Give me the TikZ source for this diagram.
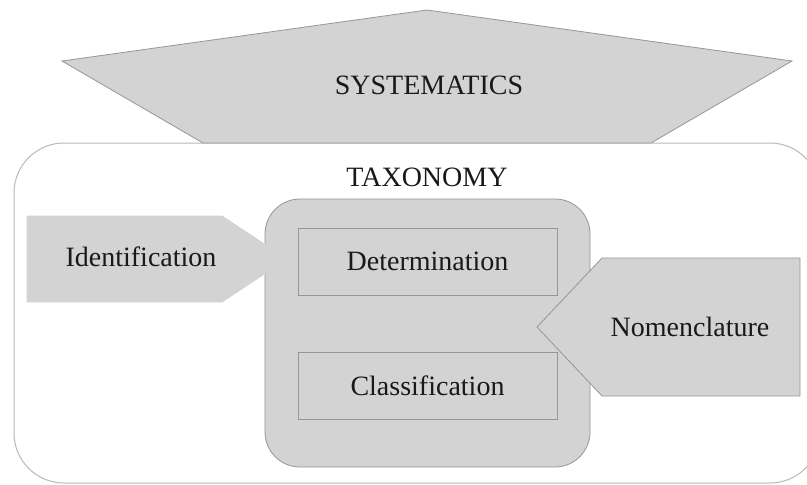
\documentclass[tikz,border=0pt]{standalone}
\usepackage{fontspec}
\setmainfont{Liberation Serif}
\definecolor{shade}{RGB}{211,211,211}
\definecolor{edge}{RGB}{150,150,150}
\definecolor{outeredge}{RGB}{185,185,185}
\definecolor{ink}{RGB}{25,25,25}
\begin{document}
\begin{tikzpicture}[x=1pt,y=-1pt,
  txt/.style={font=\fontsize{28}{32}\selectfont, text=ink, inner sep=0pt},
  shapefill/.style={fill=shade, draw=edge, line width=0.8pt, line join=miter},
  subbox/.style={draw=edge, fill=shade, line width=0.8pt, minimum width=259pt, minimum height=67pt, inner sep=0pt, font=\fontsize{28}{32}\selectfont, text=ink}]
\useasboundingbox (0,0) rectangle (807,485);
\fill[white] (0,0) rectangle (807,485);
% outer taxonomy box
\begin{scope}
\clip (0,0) rectangle (807,485);
\draw[outeredge, line width=1pt, rounded corners=50pt] (14,143) rectangle (820,483);
\end{scope}
% systematics pentagon
\draw[shapefill] (427,10) -- (792,61) -- (651,143) -- (203,143) -- (62,61) -- cycle;
\node[txt] (sys) at (429,85) {SYSTEMATICS};
\node[txt] (tax) at (427,177) {TAXONOMY};
% inner box
\draw[shapefill, rounded corners=35pt] (265,199) rectangle (590,467);
\node[subbox] (det) at (427.5,261.5) {Determination};
\node[subbox] (cls) at (427.5,385.5) {Classification};
% identification arrow
\draw[shapefill, draw=shade] (27,216) -- (222,216) -- (287,259) -- (222,302) -- (27,302) -- cycle;
\node[txt] (ide) at (141,257) {Identification};
% nomenclature arrow
\draw[shapefill] (800,258) -- (602,258) -- (537,327) -- (602,396) -- (800,396) -- cycle;
\node[txt] (nom) at (690,327) {Nomenclature};
\end{tikzpicture}
\end{document}
